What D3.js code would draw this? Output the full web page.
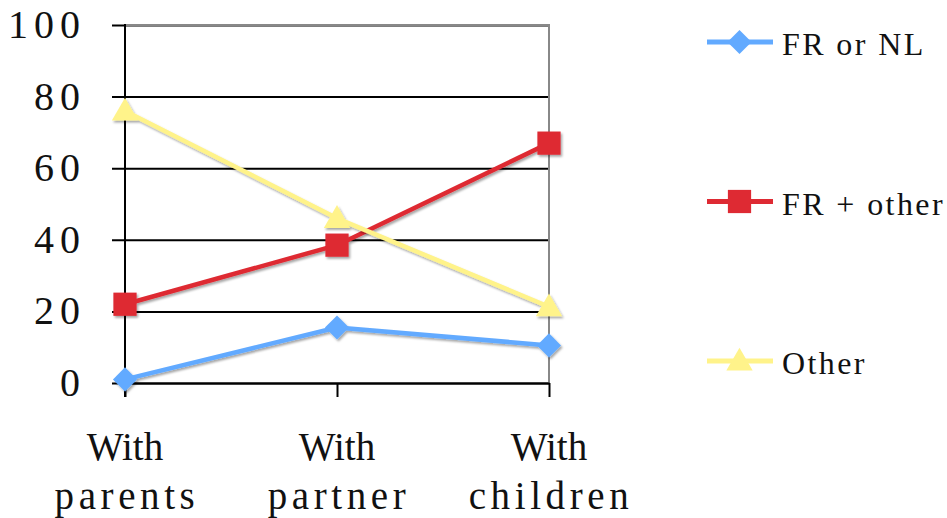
<!DOCTYPE html>
<html>
<head>
<meta charset="utf-8">
<script src="https://cdn.jsdelivr.net/npm/d3@7"></script>
<style>
  html, body { margin: 0; padding: 0; background: #fff; }
  svg { display: block; }
</style>
</head>
<body>
<svg id="chart" width="947" height="518"></svg>
<script>
// ---- data ----
const categories = ["With parents", "With partner", "With children"];
const seriesNames = ["FR or NL", "FR + other", "Other"];
const frOrNL = [1, 15.5, 10.5];
const frPlusOther = [22, 38.5, 67];
const other = [76, 46, 21.3];
const yTicks = [0, 20, 40, 60, 80, 100];

const seriesValues = [frOrNL, frPlusOther, other];
const colors = ["#62aaff", "#de2a33", "#fff38a"];
const symbols = [d3.symbolDiamond2, d3.symbolSquare, d3.symbolTriangle];
const symbolSizes = [370, 540, 300];
const FONT = "'Liberation Serif', 'Times New Roman', serif";

const svg = d3.select("#chart");
const X0 = 125, X1 = 549, Y0 = 383, Y1 = 25;

const x = d3.scalePoint().domain(categories).range([X0, X1]).padding(0);
const y = d3.scaleLinear().domain([0, 100]).range([Y0, Y1]);

const defs = svg.append("defs");
const f = defs.append("filter").attr("id", "shadow").attr("x", "-20%").attr("y", "-20%").attr("width", "140%").attr("height", "140%");
f.append("feDropShadow").attr("dx", 1.5).attr("dy", 2).attr("stdDeviation", 1)
  .attr("flood-color", "#000").attr("flood-opacity", 0.35);

// gridlines (extend left as tick stubs)
const grid = svg.append("g").attr("transform", `translate(${X0 - 13},0)`)
  .call(d3.axisLeft(y).tickValues(yTicks).tickSize(-(X1 - X0 + 13)).tickFormat(""));
grid.select(".domain").remove();
grid.selectAll(".tick line").attr("stroke", "#000").attr("stroke-width", 2);

// y labels
const yl = svg.append("g").attr("transform", `translate(${X0},0)`)
  .call(d3.axisLeft(y).tickValues(yTicks).tickSize(0).tickPadding(39));
yl.attr("font-family", null).attr("font-size", null);
yl.select(".domain").remove();
yl.selectAll(".tick text")
  .style("font-family", FONT).style("font-size", "40px").attr("letter-spacing", 6)
  .attr("dy", "0.31em").attr("fill", "#111");

// plot border top/right in gray
svg.append("line").attr("x1", X0).attr("x2", X1 + 1).attr("y1", y(100)).attr("y2", y(100))
  .attr("stroke", "#888").attr("stroke-width", 2);
svg.append("line").attr("x1", X1).attr("x2", X1).attr("y1", y(100)).attr("y2", Y0)
  .attr("stroke", "#888").attr("stroke-width", 2);

// x axis
const xa = svg.append("g").attr("transform", `translate(0,${Y0})`)
  .call(d3.axisBottom(x).tickSize(14).tickSizeOuter(0).tickFormat(""));
xa.select(".domain").attr("stroke", "#000").attr("stroke-width", 2);
xa.selectAll(".tick line").attr("stroke", "#000").attr("stroke-width", 2);

// left axis line
svg.append("line").attr("x1", X0).attr("x2", X0).attr("y1", y(100) - 1).attr("y2", Y0 + 14)
  .attr("stroke", "#000").attr("stroke-width", 2);

// x labels (two lines)
categories.forEach(c => {
  const parts = c.split(" ");
  const t = svg.append("text").attr("text-anchor", "middle")
    .style("font-family", FONT).style("font-size", "39px").attr("fill", "#111");
  t.append("tspan").attr("x", x(c)).attr("y", 460).attr("letter-spacing", 0).text(parts[0]);
  t.append("tspan").attr("x", x(c) + 2).attr("y", 509).attr("letter-spacing", 4.6).text(parts[1]);
});

// series
const line = d3.line().x((d, i) => x(categories[i])).y(d => y(d));
seriesValues.forEach((vals, s) => {
  const g = svg.append("g").attr("filter", "url(#shadow)");
  g.append("path").datum(vals).attr("d", line)
    .attr("fill", "none").attr("stroke", colors[s]).attr("stroke-width", 4.5)
    .attr("stroke-linejoin", "round");
  g.selectAll("path.m").data(vals).join("path").attr("class", "m")
    .attr("d", d3.symbol().type(symbols[s]).size(symbolSizes[s]))
    .attr("transform", (d, i) => `translate(${x(categories[i])},${y(d) + (s === 2 ? 2 : 0)})`)
    .attr("fill", colors[s]);
});

// legend
const ly = d3.scalePoint().domain(seriesNames).range([42, 361]);
seriesNames.forEach((n, s) => {
  const g = svg.append("g").attr("transform", `translate(0,${ly(n)})`);
  g.append("line").attr("x1", 707).attr("x2", 773).attr("y1", 0).attr("y2", 0)
    .attr("stroke", colors[s]).attr("stroke-width", 5);
  g.append("path").attr("d", d3.symbol().type(symbols[s]).size(symbolSizes[s]))
    .attr("transform", `translate(739.5,${s === 2 ? 2 : 0})`).attr("fill", colors[s]);
  g.append("text").attr("x", 782).attr("y", 13)
    .style("font-family", FONT).style("font-size", "32px").attr("fill", "#111")
    .attr("letter-spacing", 2.4).text(n);
});
</script>
</body>
</html>
